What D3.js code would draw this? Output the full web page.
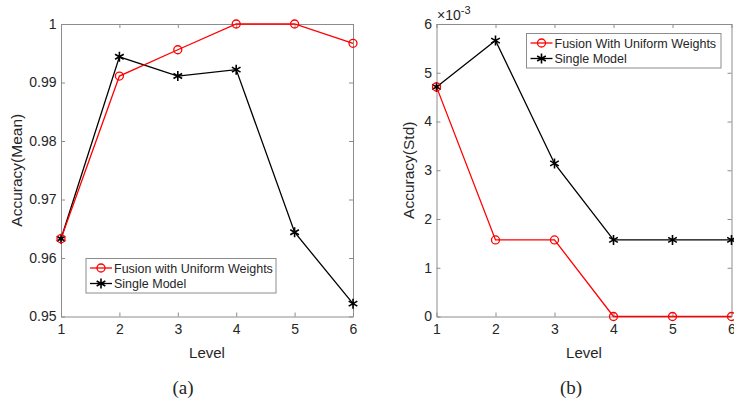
<!DOCTYPE html>
<html>
<head>
<meta charset="utf-8">
<script src="https://cdn.jsdelivr.net/npm/d3@7"></script>
<style>
  body { margin: 0; background: #fff; }
  svg { display: block; }
  text { font-family: "Liberation Sans", Arial, sans-serif; fill: #262626; }
</style>
</head>
<body>
<div id="chart"></div>
<script>
var levels = [1, 2, 3, 4, 5, 6];

// panel (a): mean accuracy
var meanFusion = [0.9633, 0.9911, 0.9956, 1.0, 1.0, 0.9967];
var meanSingle = [0.9633, 0.9944, 0.9911, 0.9922, 0.9644, 0.9522];
var meanTicks = [0.95, 0.96, 0.97, 0.98, 0.99, 1];

// panel (b): std of accuracy, in units of 1e-3
var stdFusion = [4.71, 1.571, 1.571, 0, 0, 0];
var stdSingle = [4.71, 5.66, 3.14, 1.571, 1.571, 1.571];
var stdTicks = [0, 1, 2, 3, 4, 5, 6];

var width = 734, height = 406;
var svg = d3.select('#chart').append('svg')
    .attr('width', width)
    .attr('height', height);

var drawPanel = function (p) {
  var x = d3.scaleLinear().domain([1, 6]).range([p.left, p.right]);
  var y = d3.scaleLinear().domain(p.yDomain).range([p.bottom, p.top]);
  var g = svg.append('g');

  var xAxis = d3.axisBottom(x).tickValues(levels).tickSizeInner(-4).tickSizeOuter(0).tickPadding(8)
      .tickFormat(d3.format('d'));
  var yAxis = d3.axisLeft(y).tickValues(p.yTicks).tickSizeInner(-4).tickSizeOuter(0).tickPadding(4.5)
      .tickFormat(p.fmt);
  var xTop = d3.axisTop(x).tickValues(levels).tickSizeInner(-4).tickSizeOuter(0).tickFormat('');
  var yRight = d3.axisRight(y).tickValues(p.yTicks).tickSizeInner(-4).tickSizeOuter(0).tickFormat('');

  var axes = [
    g.append('g').attr('transform', 'translate(0,' + p.bottom + ')').call(xAxis),
    g.append('g').attr('transform', 'translate(' + p.left + ',0)').call(yAxis),
    g.append('g').attr('transform', 'translate(0,' + p.top + ')').call(xTop),
    g.append('g').attr('transform', 'translate(' + p.right + ',0)').call(yRight)
  ];
  axes.forEach(function (a) {
    a.selectAll('path, line').attr('stroke', '#8c8c8c').attr('stroke-width', 1);
    a.selectAll('text').style('font-size', '14px').style('font-family', '"Liberation Sans", Arial, sans-serif')
        .attr('fill', '#262626');
  });

  var line = d3.line()
      .x(function (d, i) { return x(levels[i]); })
      .y(function (d) { return y(d); });

  // single model first, fusion on top
  g.append('path').datum(p.single).attr('d', line)
      .attr('fill', 'none').attr('stroke', '#000').attr('stroke-width', 1.3);
  g.append('path').datum(p.fusion).attr('d', line)
      .attr('fill', 'none').attr('stroke', '#ff0000').attr('stroke-width', 1.3);

  var star = d3.symbol(d3.symbolAsterisk, 70);
  g.selectAll('.star').data(p.single).enter().append('path')
      .attr('class', 'star')
      .attr('d', star)
      .attr('transform', function (d, i) { return 'translate(' + x(levels[i]) + ',' + y(d) + ')'; })
      .attr('fill', 'none').attr('stroke', '#000').attr('stroke-width', 1.6);

  g.selectAll('.dot').data(p.fusion).enter().append('circle')
      .attr('class', 'dot')
      .attr('cx', function (d, i) { return x(levels[i]); })
      .attr('cy', function (d) { return y(d); })
      .attr('r', 4)
      .attr('fill', 'none').attr('stroke', '#ff0000').attr('stroke-width', 1.3);

  // axis titles
  g.append('text')
      .attr('x', (p.left + p.right) / 2).attr('y', p.bottom + 41)
      .attr('text-anchor', 'middle').style('font-size', '15px')
      .text('Level');
  g.append('text')
      .attr('transform', 'translate(' + p.yLabelX + ',' + (p.top + p.bottom) / 2 + ') rotate(-90)')
      .attr('text-anchor', 'middle').style('font-size', '15.5px')
      .text(p.yLabel);

  // legend
  var lg = g.append('g').attr('transform', 'translate(' + p.legend.x + ',' + p.legend.y + ')');
  lg.append('rect').attr('width', p.legend.w).attr('height', 34.5)
      .attr('fill', '#fff').attr('stroke', '#8c8c8c').attr('stroke-width', 1);
  var items = [
    { name: p.fusionName, color: '#ff0000', mark: 'circle' },
    { name: 'Single Model', color: '#000', mark: 'star' }
  ];
  items.forEach(function (it, i) {
    var cy = 9.5 + i * 15.5;
    lg.append('line').attr('x1', 4).attr('x2', 26).attr('y1', cy).attr('y2', cy)
        .attr('stroke', it.color).attr('stroke-width', 1.3);
    if (it.mark === 'circle') {
      lg.append('circle').attr('cx', 15).attr('cy', cy).attr('r', 4)
          .attr('fill', 'none').attr('stroke', it.color).attr('stroke-width', 1.3);
    } else {
      lg.append('path').attr('d', star).attr('transform', 'translate(15,' + cy + ')')
          .attr('fill', 'none').attr('stroke', it.color).attr('stroke-width', 1.6);
    }
    lg.append('text').attr('x', 28).attr('y', cy + 4.5)
        .style('font-size', '12.5px').attr('fill', '#000')
        .text(it.name);
  });

  // caption
  svg.append('text')
      .attr('x', p.captionX).attr('y', 394)
      .attr('text-anchor', 'middle')
      .style('font-family', '"Liberation Serif", "Times New Roman", serif')
      .style('font-size', '19px').attr('fill', '#000')
      .text(p.caption);

  return { x: x, y: y };
};

drawPanel({
  left: 61, right: 353, top: 24, bottom: 316.5,
  yDomain: [0.95, 1], yTicks: meanTicks,
  fmt: function (d) { return d === 1 ? '1' : d3.format('.2f')(d); },
  fusion: meanFusion, single: meanSingle,
  fusionName: 'Fusion with Uniform Weights',
  yLabel: 'Accuracy(Mean)', yLabelX: 22,
  legend: { x: 86, y: 258.5, w: 190 },
  caption: '(a)', captionX: 183
});

drawPanel({
  left: 436.5, right: 731.5, top: 24, bottom: 316.5,
  yDomain: [0, 6], yTicks: stdTicks,
  fmt: d3.format('d'),
  fusion: stdFusion, single: stdSingle,
  fusionName: 'Fusion With Uniform Weights',
  yLabel: 'Accuracy(Std)', yLabelX: 414,
  legend: { x: 526.5, y: 33.5, w: 194.5 },
  caption: '(b)', captionX: 571
});

// exponent label for panel (b)
var expo = svg.append('text').attr('x', 437).attr('y', 20).style('font-size', '14px');
expo.append('tspan').text('\u00d710');
expo.append('tspan').attr('dy', -6).style('font-size', '11px').text('-3');
</script>
</body>
</html>
